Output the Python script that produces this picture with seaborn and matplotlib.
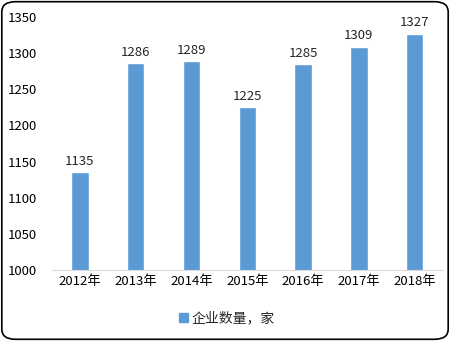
import matplotlib
matplotlib.use("Agg")
import matplotlib.pyplot as plt
import seaborn as sns
import pandas as pd
from matplotlib.patches import FancyBboxPatch, Patch

years = ["2012年", "2013年", "2014年", "2015年", "2016年", "2017年", "2018年"]
values = [1135, 1286, 1289, 1225, 1285, 1309, 1327]
series_name = "企业数量，家"
yticks = [1000, 1050, 1100, 1150, 1200, 1250, 1300, 1350]

sns.set_style("white")
plt.rcParams['font.family'] = ['Noto Sans CJK SC', 'DejaVu Sans']

df = pd.DataFrame({"year": years, "value": values})
color = "#5B9BD5"

fig = plt.figure(figsize=(4.5, 3.41), dpi=100)
ax = fig.add_axes([0.1156, 0.208, 0.868, 0.742])
sns.barplot(data=df, x="year", y="value", color=color, width=0.31, ax=ax, saturation=1)
ax.set_ylim(1000, 1350)
ax.set_yticks(yticks)
ax.set_xlabel("")
ax.set_ylabel("")
for s in ["top", "right", "left"]:
    ax.spines[s].set_visible(False)
ax.spines["bottom"].set_color("#D9D9D9")
ax.tick_params(axis="both", length=0, labelsize=9.5, colors="#000000")
ax.tick_params(axis="y", pad=11)
for i, v in enumerate(values):
    ax.text(i, v + 6, str(v), ha="center", va="bottom", fontsize=9.5)

fig.legend(handles=[Patch(color=color, label=series_name)], loc="center",
           bbox_to_anchor=(0.505, 0.067), frameon=False, fontsize=10,
           handlelength=0.6, handleheight=0.6, handletextpad=0.3)

border = FancyBboxPatch((0.004, 0.005), 0.992, 0.99, boxstyle="round,pad=0,rounding_size=0.03",
                        transform=fig.transFigure, fill=False, edgecolor="#000000", linewidth=1.2)
fig.patches.append(border)

fig.savefig("out.png", dpi=100)
